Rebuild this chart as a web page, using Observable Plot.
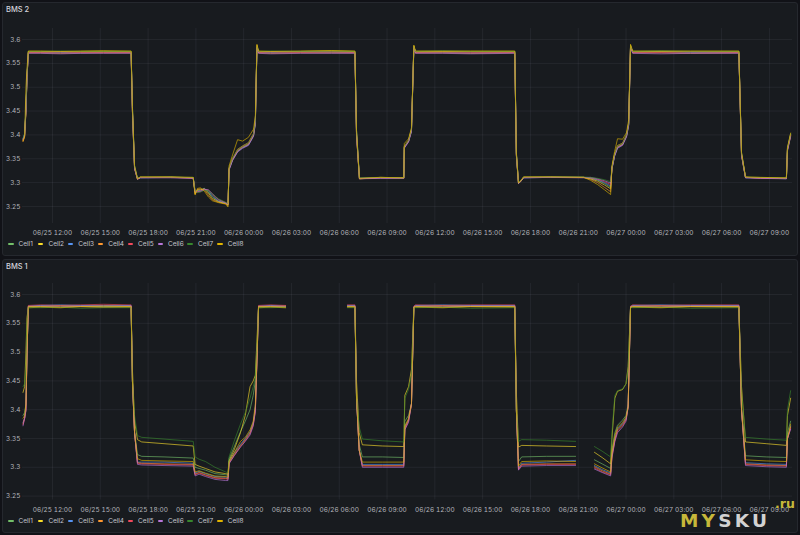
<!DOCTYPE html>
<html><head><meta charset="utf-8">
<script src="https://cdn.jsdelivr.net/npm/d3@7"></script>
<script src="https://cdn.jsdelivr.net/npm/@observablehq/plot@0.6"></script>
<style>
body{margin:0;width:800px;height:535px;background:#111217;position:relative;overflow:hidden;font-family:Inter,"DejaVu Sans",sans-serif;}
.panel{position:absolute;left:2px;width:794px;background:#181b1f;border:1px solid #25282e;border-radius:3px;}
.title{position:absolute;left:6px;font-size:7.5px;line-height:10px;color:#d4d5dc;font-weight:500;}
.chart{position:absolute;left:0;}
.legend{position:absolute;left:8px;height:8px;font-size:6.5px;line-height:8px;color:#c4c5cc;}
.item{position:absolute;top:0;display:flex;align-items:center;white-space:nowrap;}
.sw{width:5.5px;height:2px;border-radius:1px;margin-right:5px;}
.wm{position:absolute;font-family:"DejaVu Sans",sans-serif;font-weight:bold;white-space:nowrap;}
</style></head>
<body>
<div class="panel" style="top:2px;height:252px;"></div>
<div class="panel" style="top:259px;height:272px;"></div>
<div class="title" style="top:5px;">BMS 2</div>
<div class="title" style="top:262px;">BMS 1</div>
<div id="c1" class="chart" style="top:0px;"></div>
<div id="c2" class="chart" style="top:258px;"></div>
<div id="l1" class="legend" style="top:240px;"></div>
<div id="l2" class="legend" style="top:517px;"></div>
<div class="wm" style="left:680px;top:512px;font-size:18.5px;line-height:18px;letter-spacing:3.2px;"><span style="color:#c7b83a">MY</span><span style="color:#d2d2d2">SKU</span></div>
<div class="wm" style="left:775px;top:498px;font-size:12.5px;line-height:12.5px;color:#c7b83a;">.ru</div>
<script>
const cellNames = ["Cell1","Cell2","Cell3","Cell4","Cell5","Cell6","Cell7","Cell8"];
const cellColors = ["#73BF69","#FADE2A","#5794F2","#FF9830","#F2495C","#B877D9","#37872D","#E0B400"];
const xTickLabels = ["06/25 12:00","06/25 15:00","06/25 18:00","06/25 21:00","06/26 00:00","06/26 03:00","06/26 06:00","06/26 09:00","06/26 12:00","06/26 15:00","06/26 18:00","06/26 21:00","06/27 00:00","06/27 03:00","06/27 06:00","06/27 09:00"];
const yTicks = [3.25,3.3,3.35,3.4,3.45,3.5,3.55,3.6];
const timeRange = ["06/25 10:07","06/27 10:27"];

// ---- BMS 2 ----
const bms2Time = ["06/25 10:09","06/25 10:15","06/25 10:20","06/25 10:24","06/25 10:29","06/25 11:15","06/25 12:30","06/25 13:46","06/25 15:12","06/25 16:56",
"06/25 17:01","06/25 17:09","06/25 17:20","06/25 17:31","06/25 19:24","06/25 20:50","06/25 20:57","06/25 21:06","06/25 21:17","06/25 21:32",
"06/25 21:47","06/25 22:02","06/25 22:25","06/25 22:52","06/25 23:01","06/25 23:05","06/25 23:18","06/25 23:37","06/25 23:56","06/26 00:18",
"06/26 00:37","06/26 00:44","06/26 00:50","06/26 00:56","06/26 01:41","06/26 03:34","06/26 05:30","06/26 06:59","06/26 07:05","06/26 07:16",
"06/26 08:35","06/26 10:03","06/26 10:05","06/26 10:21","06/26 10:32","06/26 10:41","06/26 10:47","06/26 12:30","06/26 14:14","06/26 17:01",
"06/26 17:07","06/26 17:15","06/26 17:23","06/26 17:34","06/26 19:16","06/26 21:20","06/26 21:46","06/26 22:13","06/26 22:39","06/26 23:02",
"06/26 23:07","06/26 23:17","06/26 23:28","06/26 23:47","06/27 00:02","06/27 00:10","06/27 00:17","06/27 00:25","06/27 02:12","06/27 04:03",
"06/27 07:05","06/27 07:15","06/27 07:30","06/27 08:26","06/27 10:04","06/27 10:08","06/27 10:20"];
const bms2Cell1 = [3.390,3.400,3.455,3.525,3.574,3.574,3.575,3.574,3.575,3.574,3.460,3.335,3.309,3.311,3.311,3.310,3.279,3.283,3.284,3.288,3.280,3.270,3.261,3.257,3.254,3.330,3.350,3.368,3.376,3.382,3.401,3.428,3.587,3.574,3.575,3.574,3.575,3.574,3.410,3.309,3.310,3.310,3.375,3.388,3.411,3.586,3.574,3.575,3.574,3.574,3.362,3.300,3.303,3.311,3.312,3.311,3.309,3.305,3.298,3.290,3.331,3.359,3.376,3.381,3.400,3.424,3.587,3.574,3.575,3.574,3.574,3.362,3.311,3.310,3.309,3.372,3.402];
const bms2Cell2 = [3.388,3.398,3.450,3.520,3.575,3.575,3.574,3.575,3.576,3.575,3.450,3.330,3.308,3.311,3.312,3.310,3.277,3.285,3.285,3.287,3.278,3.267,3.260,3.256,3.253,3.328,3.348,3.366,3.374,3.380,3.399,3.425,3.585,3.575,3.574,3.575,3.576,3.575,3.400,3.308,3.311,3.310,3.374,3.387,3.409,3.585,3.575,3.576,3.575,3.575,3.358,3.299,3.302,3.311,3.311,3.311,3.308,3.303,3.295,3.287,3.330,3.357,3.374,3.380,3.398,3.422,3.586,3.575,3.576,3.575,3.575,3.358,3.311,3.310,3.309,3.368,3.398];
const bms2Cell3 = [3.392,3.402,3.452,3.522,3.573,3.573,3.573,3.572,3.573,3.573,3.455,3.332,3.308,3.310,3.311,3.310,3.280,3.282,3.283,3.287,3.283,3.272,3.262,3.257,3.254,3.327,3.347,3.365,3.373,3.379,3.398,3.424,3.584,3.573,3.573,3.574,3.573,3.573,3.405,3.309,3.310,3.309,3.373,3.386,3.408,3.584,3.573,3.573,3.572,3.573,3.360,3.298,3.303,3.310,3.311,3.311,3.310,3.306,3.300,3.293,3.329,3.356,3.373,3.379,3.397,3.421,3.585,3.573,3.574,3.573,3.573,3.360,3.310,3.310,3.308,3.370,3.400];
const bms2Cell4 = [3.386,3.396,3.448,3.518,3.572,3.572,3.571,3.572,3.572,3.572,3.450,3.330,3.307,3.311,3.311,3.310,3.276,3.286,3.287,3.285,3.274,3.264,3.259,3.256,3.252,3.330,3.350,3.370,3.377,3.384,3.403,3.430,3.588,3.572,3.571,3.572,3.572,3.572,3.400,3.308,3.310,3.310,3.376,3.389,3.412,3.587,3.572,3.572,3.571,3.572,3.358,3.299,3.303,3.311,3.312,3.311,3.307,3.300,3.290,3.281,3.332,3.360,3.378,3.383,3.401,3.426,3.588,3.572,3.572,3.571,3.572,3.358,3.311,3.310,3.309,3.370,3.401];
const bms2Cell5 = [3.389,3.399,3.450,3.520,3.573,3.573,3.574,3.573,3.573,3.573,3.452,3.331,3.308,3.311,3.311,3.309,3.281,3.281,3.282,3.286,3.284,3.275,3.264,3.258,3.255,3.329,3.349,3.367,3.375,3.381,3.400,3.427,3.586,3.573,3.574,3.573,3.574,3.573,3.402,3.309,3.310,3.309,3.374,3.387,3.410,3.586,3.573,3.574,3.573,3.573,3.360,3.300,3.303,3.311,3.311,3.311,3.310,3.307,3.302,3.296,3.330,3.358,3.375,3.380,3.399,3.423,3.586,3.573,3.573,3.574,3.573,3.360,3.311,3.309,3.309,3.369,3.399];
const bms2Cell6 = [3.391,3.401,3.453,3.521,3.571,3.571,3.570,3.571,3.571,3.571,3.448,3.329,3.307,3.310,3.310,3.309,3.282,3.280,3.281,3.285,3.285,3.277,3.265,3.258,3.255,3.326,3.346,3.364,3.372,3.378,3.397,3.422,3.583,3.571,3.570,3.571,3.571,3.571,3.398,3.308,3.309,3.309,3.372,3.385,3.407,3.583,3.571,3.571,3.570,3.571,3.356,3.298,3.302,3.310,3.311,3.310,3.311,3.308,3.304,3.299,3.328,3.355,3.372,3.378,3.396,3.420,3.584,3.571,3.570,3.571,3.571,3.356,3.310,3.309,3.308,3.366,3.397];
const bms2Cell7 = [3.393,3.403,3.456,3.524,3.575,3.575,3.576,3.575,3.575,3.575,3.458,3.334,3.309,3.312,3.312,3.311,3.283,3.279,3.280,3.284,3.283,3.276,3.266,3.259,3.256,3.331,3.351,3.369,3.376,3.383,3.402,3.429,3.587,3.575,3.576,3.575,3.576,3.575,3.408,3.310,3.311,3.310,3.376,3.389,3.412,3.587,3.575,3.576,3.575,3.575,3.362,3.301,3.304,3.312,3.312,3.312,3.311,3.309,3.306,3.302,3.332,3.360,3.377,3.382,3.401,3.425,3.588,3.575,3.576,3.575,3.575,3.362,3.312,3.311,3.310,3.372,3.402];
const bms2Cell8 = [3.387,3.397,3.500,3.540,3.576,3.576,3.575,3.576,3.576,3.576,3.460,3.336,3.308,3.312,3.312,3.311,3.274,3.288,3.289,3.282,3.270,3.262,3.258,3.255,3.249,3.335,3.358,3.390,3.387,3.395,3.412,3.440,3.590,3.576,3.575,3.576,3.577,3.576,3.410,3.309,3.311,3.310,3.382,3.392,3.415,3.588,3.576,3.575,3.576,3.576,3.364,3.299,3.303,3.312,3.312,3.311,3.305,3.296,3.285,3.275,3.335,3.365,3.392,3.391,3.405,3.432,3.590,3.576,3.575,3.576,3.576,3.364,3.312,3.311,3.310,3.374,3.404];

// ---- BMS 1 ---- (null = no data)
const bms1Time = ["06/25 10:09","06/25 10:15","06/25 10:20","06/25 10:24","06/25 10:29","06/25 11:15","06/25 12:30","06/25 13:46","06/25 15:12","06/25 16:56",
"06/25 17:01","06/25 17:09","06/25 17:20","06/25 17:36","06/25 19:00","06/25 20:50","06/25 20:57","06/25 21:12","06/25 21:36","06/25 22:12",
"06/25 22:52","06/25 23:01","06/25 23:05","06/25 23:24","06/25 23:48","06/26 00:06","06/26 00:24","06/26 00:36","06/26 00:44","06/26 00:51",
"06/26 00:56","06/26 01:42","06/26 02:38","06/26 04:00","06/26 06:31","06/26 06:59","06/26 07:05","06/26 07:15","06/26 07:27","06/26 08:42",
"06/26 10:03","06/26 10:07","06/26 10:21","06/26 10:32","06/26 10:41","06/26 10:47","06/26 12:30","06/26 14:14","06/26 17:01","06/26 17:07",
"06/26 17:15","06/26 17:27","06/26 19:00","06/26 20:50","06/26 21:24","06/26 22:01","06/26 22:30","06/26 23:02","06/26 23:07","06/26 23:18",
"06/26 23:28","06/26 23:47","06/27 00:00","06/27 00:08","06/27 00:17","06/27 00:25","06/27 02:12","06/27 04:03","06/27 07:05","06/27 07:15",
"06/27 07:30","06/27 08:48","06/27 10:04","06/27 10:08","06/27 10:20"];
const bms1Cell1 = [3.390,3.395,3.410,3.500,3.579,3.580,3.581,3.580,3.579,3.580,3.450,3.362,3.322,3.319,3.318,3.316,3.300,3.298,3.295,3.289,3.287,3.286,3.315,3.335,3.362,3.380,3.400,3.425,3.450,3.510,3.578,3.580,3.579,null,3.580,3.580,3.420,3.340,3.318,3.318,3.317,3.380,3.390,3.410,3.577,3.580,3.581,3.580,3.580,3.400,3.310,3.318,3.319,3.319,null,3.313,3.306,3.298,3.330,3.360,3.373,3.382,3.390,3.410,3.577,3.580,3.581,3.580,3.580,3.400,3.320,3.318,3.317,3.360,3.380];
const bms1Cell2 = [3.430,3.440,3.500,3.560,3.577,3.578,3.577,3.579,3.578,3.578,3.470,3.380,3.348,3.344,3.341,3.337,3.305,3.302,3.298,3.292,3.289,3.288,3.312,3.330,3.360,3.390,3.440,3.450,3.460,3.530,3.577,3.578,3.577,null,3.578,3.578,3.450,3.360,3.339,3.337,3.336,3.425,3.440,3.470,3.578,3.578,3.577,3.579,3.578,3.430,3.335,3.338,3.337,3.336,null,3.326,3.317,3.306,3.350,3.420,3.432,3.435,3.445,3.475,3.578,3.578,3.577,3.579,3.578,3.440,3.344,3.341,3.338,3.390,3.420];
const bms1Cell3 = [3.378,3.385,3.405,3.500,3.580,3.581,3.582,3.581,3.580,3.581,3.450,3.360,3.309,3.309,3.309,3.307,3.290,3.293,3.289,3.284,3.283,3.282,3.310,3.325,3.340,3.350,3.362,3.378,3.405,3.500,3.580,3.581,3.580,null,3.581,3.581,3.420,3.330,3.305,3.305,3.305,3.370,3.383,3.410,3.579,3.581,3.582,3.581,3.581,3.400,3.298,3.307,3.309,3.312,null,3.303,3.296,3.290,3.322,3.350,3.367,3.376,3.385,3.405,3.579,3.581,3.582,3.581,3.581,3.400,3.308,3.306,3.305,3.350,3.372];
const bms1Cell4 = [3.376,3.385,3.400,3.500,3.579,3.579,3.580,3.579,3.578,3.579,3.450,3.360,3.308,3.307,3.306,3.305,3.288,3.291,3.287,3.282,3.281,3.280,3.308,3.322,3.338,3.348,3.360,3.375,3.400,3.500,3.579,3.579,3.580,null,3.579,3.579,3.420,3.330,3.303,3.303,3.303,3.368,3.382,3.410,3.578,3.579,3.580,3.579,3.579,3.400,3.297,3.305,3.306,3.306,null,3.301,3.294,3.288,3.320,3.348,3.365,3.374,3.383,3.405,3.578,3.579,3.580,3.579,3.579,3.400,3.306,3.304,3.303,3.350,3.370];
const bms1Cell5 = [3.374,3.385,3.400,3.500,3.581,3.582,3.581,3.582,3.583,3.582,3.450,3.360,3.307,3.306,3.305,3.304,3.287,3.290,3.286,3.281,3.280,3.279,3.307,3.320,3.336,3.346,3.358,3.373,3.398,3.500,3.581,3.582,3.581,null,3.582,3.582,3.420,3.330,3.302,3.302,3.302,3.366,3.380,3.410,3.580,3.582,3.581,3.582,3.582,3.400,3.296,3.304,3.305,3.305,null,3.299,3.292,3.287,3.318,3.346,3.363,3.372,3.382,3.405,3.580,3.582,3.581,3.582,3.582,3.400,3.305,3.303,3.302,3.350,3.368];
const bms1Cell6 = [3.372,3.385,3.398,3.500,3.579,3.580,3.579,3.580,3.581,3.580,3.450,3.360,3.305,3.304,3.303,3.302,3.285,3.288,3.284,3.279,3.277,3.277,3.306,3.320,3.335,3.345,3.356,3.372,3.396,3.500,3.579,3.580,3.579,null,3.580,3.580,3.420,3.330,3.300,3.300,3.300,3.365,3.378,3.410,3.578,3.580,3.579,3.580,3.580,3.400,3.295,3.302,3.303,3.303,null,3.297,3.291,3.285,3.316,3.345,3.360,3.370,3.380,3.405,3.578,3.580,3.579,3.580,3.580,3.400,3.303,3.301,3.300,3.350,3.366];
const bms1Cell7 = [3.440,3.445,3.470,3.550,3.577,3.577,3.578,3.576,3.577,3.577,3.450,3.390,3.355,3.352,3.349,3.345,3.318,3.314,3.310,3.300,3.292,3.290,3.318,3.345,3.375,3.395,3.420,3.440,3.455,3.520,3.577,3.577,3.578,null,3.577,3.577,3.420,3.370,3.349,3.346,3.344,3.420,3.435,3.460,3.577,3.577,3.578,3.576,3.577,3.400,3.345,3.348,3.347,3.345,null,3.336,3.328,3.318,3.360,3.425,3.433,3.436,3.445,3.470,3.577,3.577,3.578,3.576,3.577,3.430,3.352,3.349,3.347,3.400,3.433];
const bms1Cell8 = [3.385,3.390,3.410,3.500,3.579,3.579,3.578,3.579,3.580,3.579,3.450,3.360,3.315,3.312,3.311,3.310,3.292,3.294,3.290,3.285,3.284,3.283,3.310,3.325,3.345,3.352,3.365,3.380,3.410,3.500,3.579,3.579,3.578,null,3.579,3.579,3.420,3.330,3.309,3.309,3.309,3.372,3.385,3.410,3.578,3.579,3.578,3.579,3.579,3.400,3.302,3.310,3.311,3.310,null,3.306,3.299,3.292,3.325,3.355,3.370,3.378,3.387,3.405,3.578,3.579,3.578,3.579,3.579,3.400,3.313,3.311,3.310,3.350,3.375];

const parseT = d3.utcParse("%m/%d %H:%M");
const fmtT = d3.utcFormat("%m/%d %H:%M");
const xTicks = xTickLabels.map(parseT);
const xDomain = timeRange.map(parseT);

function rowsFor(times, series) {
  const rows = [];
  series.forEach((vals, i) => vals.forEach((v, j) => rows.push({time: parseT(times[j]), volt: v == null ? NaN : v, cell: cellNames[i]})));
  return rows;
}

function chart(rows, yDomain, height, mTop, mBottom) {
  return Plot.plot({
    width: 800, height, marginTop: mTop, marginBottom: mBottom, marginLeft: 22, marginRight: 8,
    style: {background: "transparent", color: "#b4b5bc", fontFamily: "Inter, sans-serif", fontSize: "6.5px", overflow: "visible"},
    x: {type: "utc", domain: xDomain},
    y: {domain: yDomain},
    color: {domain: cellNames, range: cellColors},
    marks: [
      Plot.gridX(xTicks, {stroke: "#ccccdc", strokeOpacity: 0.07}),
      Plot.gridY(yTicks, {stroke: "#ccccdc", strokeOpacity: 0.07}),
      Plot.axisX(xTicks, {tickSize: 0, tickPadding: 7, tickFormat: fmtT, label: null}),
      Plot.axisY(yTicks, {tickSize: 0, tickPadding: 2, tickFormat: d => String(d), label: null}),
      Plot.line(rows, {x: "time", y: "volt", z: "cell", stroke: "cell", strokeWidth: 0.85, strokeOpacity: 0.75})
    ]
  });
}

const rows2 = rowsFor(bms2Time, [bms2Cell1,bms2Cell2,bms2Cell3,bms2Cell4,bms2Cell5,bms2Cell6,bms2Cell7,bms2Cell8]);
const rows1 = rowsFor(bms1Time, [bms1Cell1,bms1Cell2,bms1Cell3,bms1Cell4,bms1Cell5,bms1Cell6,bms1Cell7,bms1Cell8]);

document.getElementById("c1").append(chart(rows2, [3.2143, 3.6231], 240, 28, 17));
document.getElementById("c2").append(chart(rows1, [3.2432, 3.6191], 258, 25, 16.5));

function legend(id) {
  const el = document.getElementById(id);
  cellNames.forEach((name, i) => {
    const it = document.createElement("div");
    it.className = "item";
    it.style.left = (i * 29.9) + "px";
    it.innerHTML = `<span class="sw" style="background:${cellColors[i]}"></span><span>${name}</span>`;
    el.append(it);
  });
}
legend("l1"); legend("l2");
</script>
</body></html>
